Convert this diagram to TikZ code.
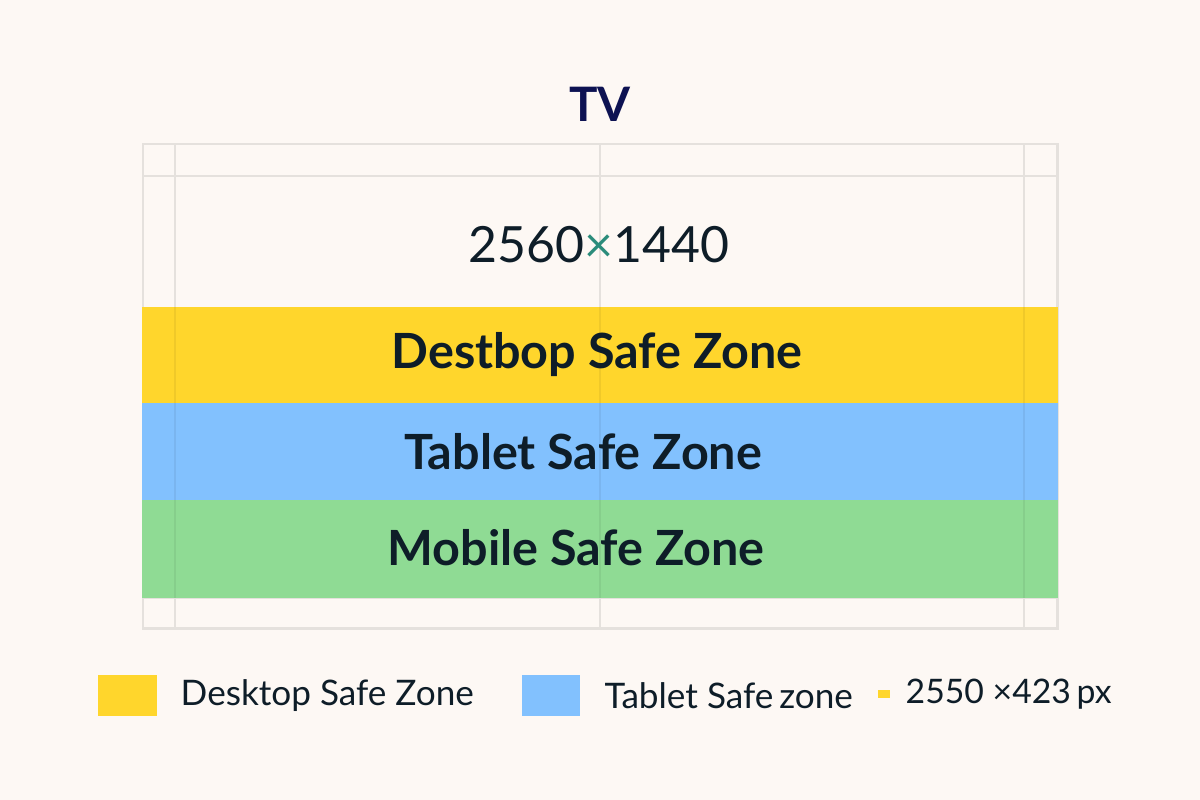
\documentclass[tikz,border=0pt]{standalone}
\usepackage{fontspec}
\setmainfont{Lato}
\definecolor{paper}{HTML}{FDF8F4}
\definecolor{gridgray}{HTML}{E5E1DD}
\definecolor{deskyellow}{HTML}{FFD62C}
\definecolor{tabblue}{HTML}{82C1FE}
\definecolor{mobgreen}{HTML}{8FDB94}
\definecolor{titlenavy}{HTML}{0D1252}
\definecolor{inkdark}{HTML}{0E1D28}
\definecolor{crossteal}{HTML}{2B8C7B}
\tikzset{
  guide/.style={draw=gridgray, line width=0.45pt},
  frame/.style={draw=gridgray, line width=0.85pt},
  band/.style={inner sep=0pt, font=\fontsize{13.8}{16}\selectfont\bfseries, text=inkdark},
  legtext/.style={anchor=west, inner sep=0pt, font=\fontsize{10}{12}\selectfont, text=inkdark}
}
\begin{document}
\begin{tikzpicture}[x=0.01cm, y=-0.01cm]
  \fill[paper] (0,0) rectangle (1200,800);
  \useasboundingbox (0,0) rectangle (1200,800);

  % frame and guide lines
  \draw[frame] (143,144) rectangle (1057,628);
  \draw[guide] (143,176) -- (1057,176);
  \draw[guide] (143,598) -- (1057,598);

  % safe zone bands
  \fill[deskyellow] (142,307) rectangle (1058,403);
  \fill[tabblue] (142,403) rectangle (1058,500);
  \fill[mobgreen] (142,500) rectangle (1058,598);

  \foreach \x in {175,600,1024} {
    \draw[guide] (\x,145) -- (\x,307);
    \draw[guide] (\x,598) -- (\x,627);
    \draw[guide, draw=black, draw opacity=0.06] (\x,307) -- (\x,598);
  }

  \node (title) at (600,104) [font=\fontsize{13.5}{15}\selectfont\bfseries, text=titlenavy] {TV};
  \node (size) at (599,245) [font=\fontsize{14.2}{17}\selectfont, text=inkdark] {2560{\color{crossteal}×}1440};

  \node[band] (desk) at (597,355) {Destbop Safe Zone};
  \node[band] (tab) at (583,452) {Tablet Safe Zone};
  \node[band] (mob) at (576,548) {Mobile Safe Zone};

  % legend
  \fill[deskyellow] (98,675) rectangle (157,716);
  \node[legtext] (legdesk) at (180,696) {Desktop Safe Zone};
  \fill[tabblue] (522,675) rectangle (580,716);
  \node[legtext] (legtab) at (604,696) {Tablet Safe\,zone};
  \fill[deskyellow] (878,690) rectangle (890,698);
  \node[legtext, font=\fontsize{9.6}{12}\selectfont] (legsize) at (905,694) {2550 ×423\,px};
\end{tikzpicture}
\end{document}
